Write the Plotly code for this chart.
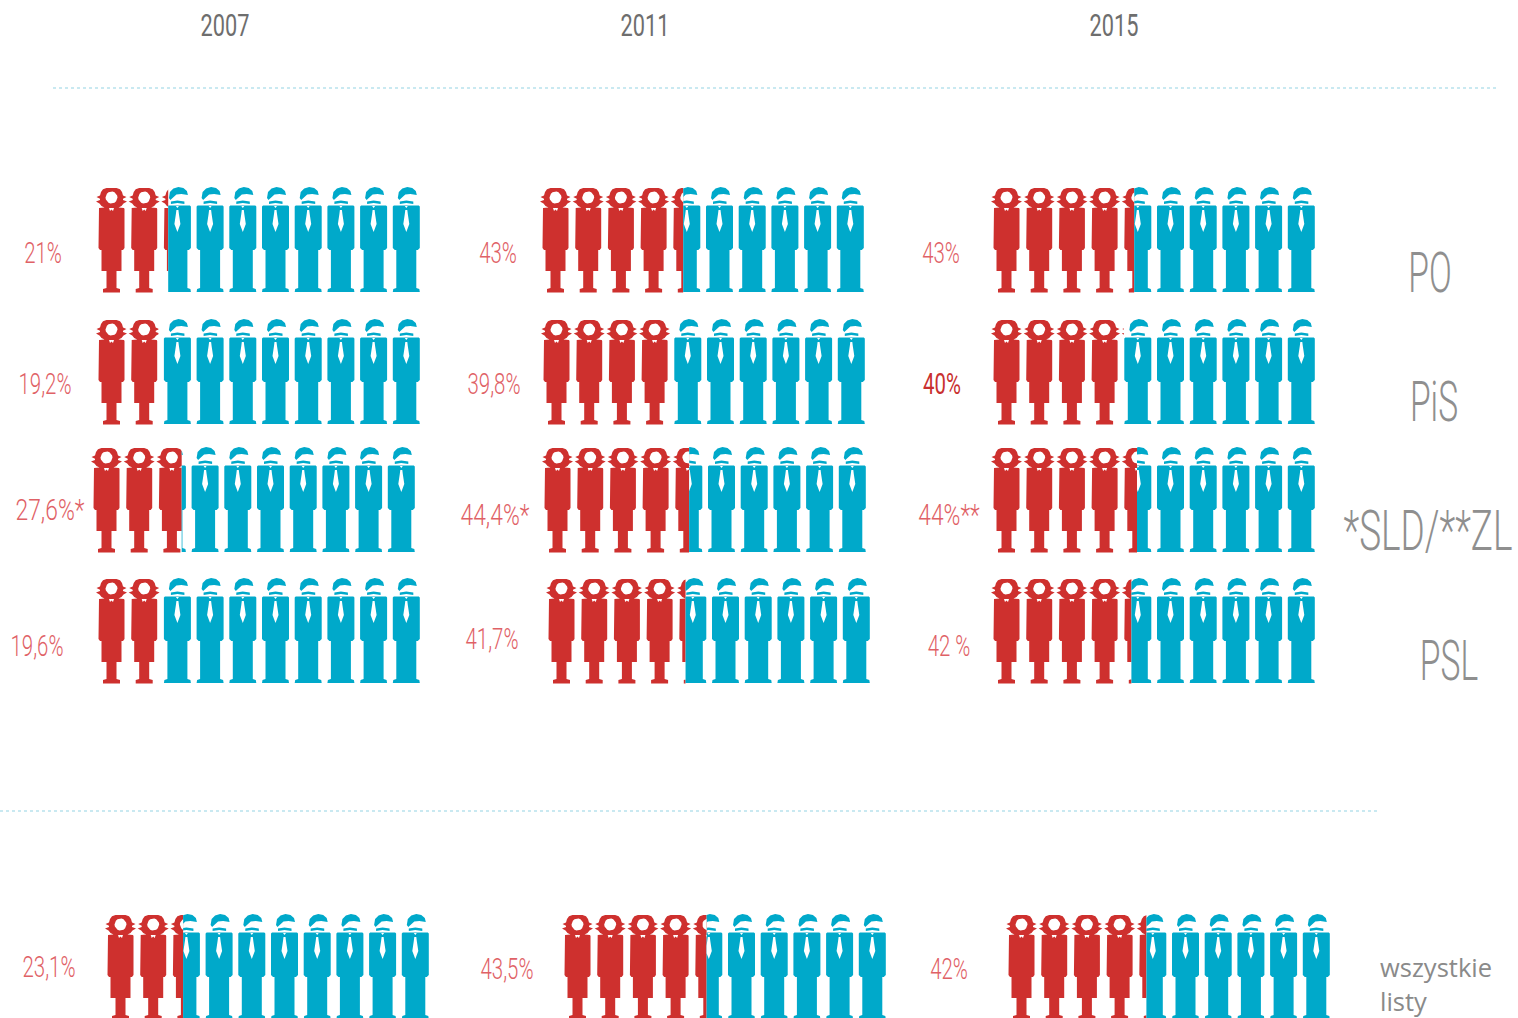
import math
import plotly.graph_objects as go

# ---------- data ----------
years = ["2007", "2011", "2015"]
parties = ["PO", "PiS", "*SLD/**ZL", "PSL"]
all_lists = ["wszystkie", "listy"]
share_2007 = [21, 19.2, 27.6, 19.6, 23.1]
share_2011 = [43, 39.8, 44.4, 41.7, 43.5]
share_2015 = [43, 40, 44, 42, 42]
label_2007 = ["21%", "19,2%", "27,6%*", "19,6%", "23,1%"]
label_2011 = ["43%", "39,8%", "44,4%*", "41,7%", "43,5%"]
label_2015 = ["43%", "40%", "44%**", "42 %", "42%"]

# ---------- layout constants (pixel axis) ----------
W, H = 1518, 1018
ROW_TOP = [188, 320, 448, 579, 915]
LEFT_2007 = [98, 98, 93, 98, 107]
LEFT_2011 = [542, 543, 544, 548, 564]
LEFT_2015 = [993, 993, 993, 993, 1008]
LABEL_X = [[43, 45, 50, 37, 49], [498, 494, 495, 492, 507], [941, 942, 949, 949, 949]]
LABEL_Y = [[252, 383, 509, 645, 966], [252, 383, 514, 638, 968], [252, 383, 514, 645, 968]]
YEAR_X = [225, 645, 1114]
PARTY_X = [1430, 1434, 1428, 1449]
PARTY_Y = [272, 401, 530, 660]
PITCH, CELL = 32.7, 28
N_FIG = 10
RED, BLUE = "#ce302e", "#00a9ca"
LABEL_RED, DARK_RED = "#df6166", "#c9302f"

def mirror(half, cx=14):
    r = [(cx + d, y) for d, y in half]
    l = [(cx - d, y) for d, y in reversed(half)]
    return r + l

FEMALE = [mirror([(5, 0), (8.5, 1.2), (10.5, 4), (11.5, 7.5), (15, 9), (11.5, 10.8), (11.5, 12), (15.5, 13.5),
                  (12, 15.5), (10, 18), (7, 19.5), (12.5, 20), (13, 21), (13, 60), (11.5, 62), (10, 62),
                  (10, 83), (5, 83), (5, 100), (8.5, 101), (8.5, 104.5)], 13.5)]
MALE = [
    [(5.5, 11), (6.5, 5), (10, 1.5), (15, 0), (20, 1), (23.5, 4), (24.5, 8), (18, 7), (13, 7.5), (9.5, 11), (7, 13)],
    [(7.5, 14.5), (14, 13.5), (21, 14.5), (21, 17), (14, 16), (7.5, 17)],
    mirror([(12.5, 18.5), (13.5, 19.5), (13.5, 61), (11.5, 63), (10, 63), (10, 101), (13, 102), (13.5, 105)]),
]
circle = [(13.5 + 6 * math.cos(a * math.pi / 9), 9.5 + 6 * math.sin(a * math.pi / 9)) for a in range(18)]
FEMALE_WHITE = [circle, [(11, 20), (16, 20), (15, 23), (13.5, 21.5), (12, 23)]]
MALE_WHITE = [[(12.5, 19), (15.5, 19), (14, 21)],
              [(13, 23), (15, 23), (15.5, 27), (17, 37), (14, 45), (11, 37), (12.5, 27)]]

def clip(poly, xs, keep_left):
    inside = (lambda p: p[0] <= xs) if keep_left else (lambda p: p[0] >= xs)
    out = []
    for i, p in enumerate(poly):
        q = poly[(i + 1) % len(poly)]
        if inside(p):
            out.append(p)
        if inside(p) != inside(q):
            t = (xs - p[0]) / (q[0] - p[0])
            out.append((xs, p[1] + t * (q[1] - p[1])))
    return out

class Path:
    def __init__(self):
        self.x, self.y = [], []
    def add(self, polys, ox, oy, xs, keep_left):
        for poly in polys:
            c = clip([(px + ox, py + oy) for px, py in poly], xs, keep_left)
            if c:
                self.x += [p[0] for p in c] + [c[0][0], None]
                self.y += [p[1] for p in c] + [c[0][1], None]

red, blue, white = Path(), Path(), Path()
shares = [share_2007, share_2011, share_2015]
lefts = [LEFT_2007, LEFT_2011, LEFT_2015]
for s_col, l_col in zip(shares, lefts):
    for row, (share, left) in enumerate(zip(s_col, l_col)):
        units = share / 100 * N_FIG
        whole = int(units)
        frac = units - whole
        split = left + whole * PITCH + frac * CELL + (2 if frac > 0 else 0)
        for i in range(N_FIG):
            ox = left + i * PITCH
            red.add(FEMALE, ox, ROW_TOP[row], split, True)
            white.add(FEMALE_WHITE, ox, ROW_TOP[row], split, True)
            blue.add(MALE, ox, ROW_TOP[row] - 1, split, False)
            white.add(MALE_WHITE, ox, ROW_TOP[row] - 1, split, False)

fig = go.Figure()
for path, col in ((red, RED), (blue, BLUE), (white, "#ffffff")):
    fig.add_trace(go.Scatter(x=path.x, y=path.y, mode="lines", fill="toself", fillcolor=col,
                             line=dict(width=0, color=col), hoverinfo="skip", showlegend=False))
for x0, x1, y in ((53, 1498, 88), (0, 1380, 811)):
    fig.add_trace(go.Scatter(x=[x0, x1], y=[y, y], mode="lines", hoverinfo="skip", showlegend=False,
                             line=dict(color="#c9e9f1", width=2, dash="3px,3px")))

def txt(x, y, s, size, color, family="Roboto", pos="middle center", weight=300):
    fig.add_trace(go.Scatter(x=[x], y=[y + size * 0.105], mode="text", text=[s], textposition=pos, cliponaxis=False,
                             hoverinfo="skip", showlegend=False,
                             textfont=dict(family=family, size=size, color=color, weight=weight)))

for x, y in zip(YEAR_X, years):
    txt(x, 25, y, 32, "#6e6e6e", weight=400)
for c, (labels, xs, ys) in enumerate(zip((label_2007, label_2011, label_2015), LABEL_X, LABEL_Y)):
    for s, x, y in zip(labels, xs, ys):
        txt(x, y, s, 30, DARK_RED if s == "40%" else LABEL_RED, weight=400 if s == "40%" else 300)
for p, x, y in zip(parties, PARTY_X, PARTY_Y):
    txt(x, y, p, 56, "#8f8f8f")
txt(1380, 968, all_lists[0], 25.5, "#8a8a8a", "Open Sans", "middle right", 400)
txt(1380, 1002, all_lists[1], 25.5, "#8a8a8a", "Open Sans", "middle right", 400)

fig.update_layout(width=W, height=H, margin=dict(l=0, r=0, t=0, b=0), plot_bgcolor="#ffffff",
                  paper_bgcolor="#ffffff", showlegend=False,
                  xaxis=dict(range=[0, W], visible=False, fixedrange=True),
                  yaxis=dict(range=[H, 0], visible=False, fixedrange=True))

POST = """
document.body.style.margin='0';document.body.style.overflow='hidden';
document.querySelectorAll('.textpoint text').forEach(function(t){
  if((t.style.fontFamily||'').indexOf('Roboto')>=0){
    var s=parseFloat(t.style.fontSize), v=t.textContent;
    var k=s>50?(v.indexOf('SLD')>=0?0.66:0.6):(s==32?0.68:(v.indexOf('*')>=0?0.76:0.68));
    t.setAttribute('textLength',t.getComputedTextLength()*k);t.setAttribute('lengthAdjust','spacingAndGlyphs');
  }
});
"""
fig.write_html("out.html", post_script=POST, config={"displayModeBar": False})
